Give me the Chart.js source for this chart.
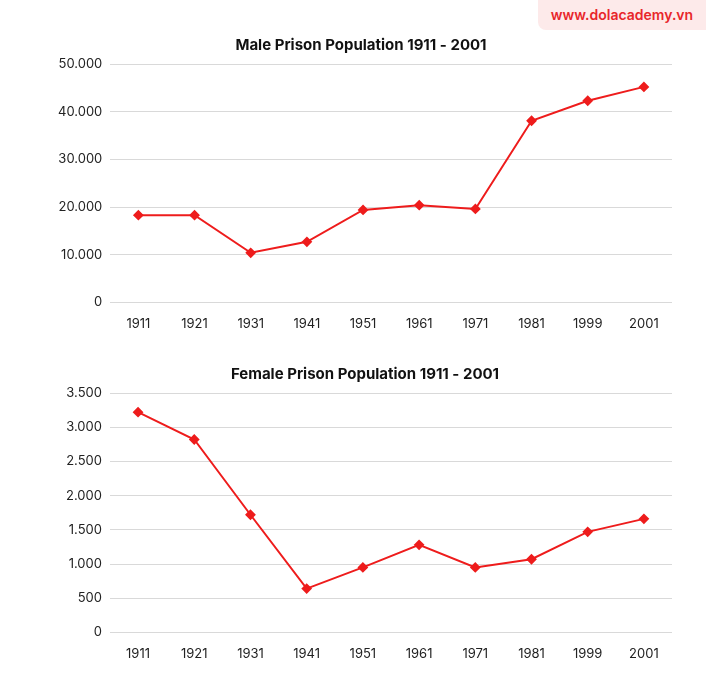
<!DOCTYPE html>
<html>
<head>
<meta charset="utf-8">
<script src="https://cdn.jsdelivr.net/npm/chart.js@4.4.0/dist/chart.umd.min.js"></script>
<style>
  body { margin:0; background:#fff; font-family: Inter, sans-serif; }
  .box { position:absolute; left:0; width:712px; }
  #badge { position:absolute; right:6px; top:0; width:168px; height:30px; background:#fdeaea;
           border-radius:0 0 0 8px; color:#e8262a; font: 600 14px Inter, sans-serif;
           text-align:center; line-height:30px; }
</style>
</head>
<body>
<div id="badge">www.dolacademy.vn</div>
<div class="box" style="top:36px;height:302px"><canvas id="male"></canvas></div>
<div class="box" style="top:365px;height:303px"><canvas id="female"></canvas></div>
<script>
var years = ['1911','1921','1931','1941','1951','1961','1971','1981','1999','2001'];
var maleValues = [18300, 18300, 10400, 12700, 19400, 20400, 19600, 38100, 42300, 45200];
var femaleValues = [3220, 2820, 1720, 640, 950, 1280, 950, 1070, 1470, 1660];

function fmt(v){ return Number(v).toLocaleString('de-DE'); }

function makeChart(id, title, values, max, step, leftPad){
  new Chart(document.getElementById(id), {
    type: 'line',
    data: {
      labels: years,
      datasets: [{
        data: values,
        borderColor: '#ee1c1c',
        backgroundColor: '#ee1c1c',
        borderWidth: 2,
        pointStyle: 'rectRot',
        pointRadius: 4,
        tension: 0
      }]
    },
    options: {
      responsive: true,
      maintainAspectRatio: false,
      animation: false,
      layout: { padding: { left: leftPad, right: 40 } },
      plugins: {
        legend: { display: false },
        title: { display: true, text: title, color: '#111',
                 font: { family: 'Inter', size: 15, weight: 'bold' }, padding: { top: 0, bottom: 10 } }
      },
      scales: {
        x: {
          offset: true,
          grid: { display: false },
          border: { display: false },
          ticks: { color: '#222', font: { family: 'Inter', size: 13 }, padding: 6 }
        },
        y: {
          min: 0, max: max,
          ticks: { stepSize: step, color: '#222', font: { family: 'Inter', size: 13 }, callback: fmt, padding: 8 },
          grid: { color: '#d9d9d9', drawTicks: false },
          border: { display: false }
        }
      }
    }
  });
}

makeChart('male', 'Male Prison Population 1911 - 2001', maleValues, 50000, 10000, 50);
makeChart('female', 'Female Prison Population 1911 - 2001', femaleValues, 3500, 500, 58);
</script>
</body>
</html>
